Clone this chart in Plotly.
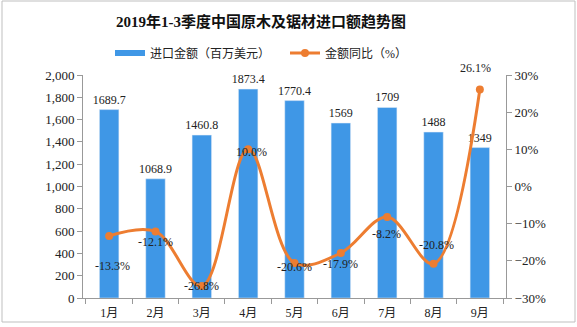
import plotly.graph_objects as go

months = ["1月", "2月", "3月", "4月", "5月", "6月", "7月", "8月", "9月"]
import_value = [1689.7, 1068.9, 1460.8, 1873.4, 1770.4, 1569, 1709, 1488, 1349]
yoy_pct = [-13.3, -12.1, -26.8, 10.0, -20.6, -17.9, -8.2, -20.8, 26.1]
bar_labels = ["1689.7", "1068.9", "1460.8", "1873.4", "1770.4", "1569", "1709", "1488", "1349"]
line_labels = ["-13.3%", "-12.1%", "-26.8%", "10.0%", "-20.6%", "-17.9%", "-8.2%", "-20.8%", "26.1%"]
# label offsets in pixels (style only): down-positive dy, right-positive dx
label_dy = [30, 11, 0, 3, 4, 11, 17, -19, -21]
label_dx = [3, 0, 0, 3, 0, 0, -1, 3, -4]

W, H = 577, 327
L, R, T, B = 83, 71, 75, 29
pw, ph = W - L - R, H - T - B

font_main = "Liberation Serif, Noto Sans CJK SC, serif"
BLUE = "#3F97E6"
ORANGE = "#ED7D31"

fig = go.Figure()
fig.add_trace(go.Bar(
    x=months, y=import_value, name="进口金额（百万美元）", showlegend=False,
    marker=dict(color=BLUE), width=0.42,
    text=bar_labels, textposition="outside", cliponaxis=False, constraintext="none",
    textfont=dict(size=12, color="#222222", family=font_main),
))
fig.add_trace(go.Scatter(
    x=months, y=yoy_pct, name="金额同比（%）", yaxis="y2", showlegend=False,
    mode="lines+markers",
    line=dict(color=ORANGE, width=3, shape="spline", smoothing=1.0),
    marker=dict(color=ORANGE, size=8),
    cliponaxis=False,
))
# legend-only entries
fig.add_trace(go.Scatter(x=[None], y=[None], mode="lines", name="进口金额（百万美元）",
                         line=dict(color=BLUE, width=6), legend="legend"))
fig.add_trace(go.Scatter(x=[None], y=[None], mode="lines+markers", name="金额同比（%）",
                         line=dict(color=ORANGE, width=3), marker=dict(color=ORANGE, size=8),
                         legend="legend2"))

annotations = []
for m, v, t, dy, dx in zip(months, yoy_pct, line_labels, label_dy, label_dx):
    annotations.append(dict(x=m, y=v, xref="x", yref="y2", text=t, showarrow=False,
                            yshift=-dy, xshift=dx,
                            font=dict(size=12, color="#222222", family=font_main)))

leg_common = dict(orientation="h", xanchor="left", yanchor="middle",
                  y=(H - B - 53) / ph, font=dict(size=12, family=font_main),
                  bgcolor="rgba(0,0,0,0)", borderwidth=0)

fig.update_layout(
    width=W, height=H,
    margin=dict(l=L, r=R, t=T, b=B, autoexpand=False),
    paper_bgcolor="white", plot_bgcolor="white",
    font=dict(family=font_main, size=12, color="#222222"),
    title=dict(text="<b>2019年1-3季度中国原木及锯材进口额趋势图</b>",
               x=261 / W, xanchor="center", y=1 - 22 / H, yanchor="middle",
               font=dict(size=15, color="#111111", family=font_main)),
    showlegend=True,
    legend=dict(x=(110 - L) / pw, **leg_common),
    legend2=dict(x=(285 - L) / pw, **leg_common),
    bargap=0.58,
    xaxis=dict(showline=True, linecolor="#999999", ticks="outside", tickson="boundaries",
               ticklen=5, tickcolor="#999999", showgrid=False, ticklabelstandoff=4,
               automargin=False, tickfont=dict(size=12, family=font_main)),
    yaxis=dict(range=[0, 2000], dtick=200, tickformat=",", showline=True, linecolor="#999999",
               ticks="outside", ticklen=5, tickcolor="#999999", showgrid=False, zeroline=False,
               automargin=False, tickfont=dict(size=13, family=font_main)),
    yaxis2=dict(range=[-30, 30], dtick=10, ticksuffix="%", overlaying="y", side="right",
                showline=True, linecolor="#999999", ticks="outside", ticklen=5, tickcolor="#999999",
                showgrid=False, zeroline=False, automargin=False,
                tickfont=dict(size=13, family=font_main)),
    annotations=annotations,
    shapes=[dict(type="rect", xref="paper", yref="paper",
                 x0=(2 - L) / pw, x1=(575 - L) / pw,
                 y0=(H - B - 322) / ph, y1=(H - B - 1) / ph,
                 line=dict(color="#BFBFBF", width=1), fillcolor="rgba(0,0,0,0)", layer="below")],
)

fig.write_html("out.html")
